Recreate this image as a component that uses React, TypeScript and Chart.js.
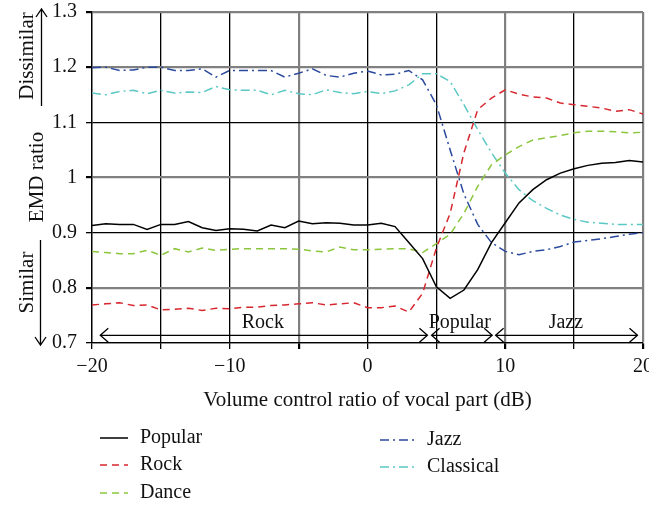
import { useEffect, useRef } from 'react';
import { Chart, registerables } from 'chart.js';

Chart.register(...registerables);

const volumeDb = [
  -20, -19, -18, -17, -16, -15, -14, -13, -12, -11, -10, -9, -8, -7, -6, -5, -4, -3, -2, -1,
  0, 1, 2, 3, 4, 5, 6, 7, 8, 9, 10, 11, 12, 13, 14, 15, 16, 17, 18, 19, 20,
];

const popular = [
  0.913, 0.916, 0.915, 0.915, 0.906, 0.915, 0.915, 0.92, 0.909, 0.904, 0.907, 0.906, 0.903, 0.914,
  0.909, 0.921, 0.916, 0.918, 0.917, 0.914, 0.914, 0.917, 0.911, 0.882, 0.853, 0.802, 0.781, 0.796,
  0.833, 0.882, 0.918, 0.954, 0.978, 0.996, 1.008, 1.016, 1.022, 1.026, 1.027, 1.031, 1.028,
];

const rock = [
  0.769, 0.771, 0.773, 0.768, 0.769, 0.76, 0.761, 0.763, 0.759, 0.763, 0.762, 0.765, 0.765, 0.768,
  0.769, 0.771, 0.773, 0.769, 0.771, 0.773, 0.764, 0.764, 0.767, 0.756, 0.79, 0.872, 0.935, 1.045,
  1.123, 1.144, 1.159, 1.151, 1.146, 1.144, 1.135, 1.132, 1.129, 1.126, 1.12, 1.123, 1.115,
];

const dance = [
  0.866, 0.864, 0.862, 0.862, 0.868, 0.859, 0.871, 0.865, 0.872, 0.868, 0.87, 0.871, 0.871, 0.871,
  0.871, 0.87, 0.867, 0.865, 0.874, 0.869, 0.869, 0.87, 0.871, 0.871, 0.864, 0.88, 0.897, 0.935,
  0.984, 1.023, 1.041, 1.056, 1.068, 1.072, 1.076, 1.081, 1.084, 1.084, 1.083, 1.081, 1.082,
];

const jazz = [
  1.199, 1.2, 1.194, 1.195, 1.2, 1.2, 1.194, 1.194, 1.197, 1.182, 1.194, 1.194, 1.194, 1.194,
  1.182, 1.189, 1.197, 1.185, 1.182, 1.189, 1.193, 1.186, 1.187, 1.194, 1.177, 1.132, 1.05, 0.97,
  0.915, 0.882, 0.866, 0.86, 0.866, 0.869, 0.875, 0.883, 0.886, 0.889, 0.893, 0.897, 0.9,
];

const classical = [
  1.153, 1.15, 1.156, 1.158, 1.152, 1.158, 1.153, 1.155, 1.154, 1.165, 1.159, 1.158, 1.158, 1.15,
  1.158, 1.152, 1.15, 1.159, 1.154, 1.152, 1.156, 1.152, 1.157, 1.168, 1.188, 1.188, 1.174, 1.132,
  1.087, 1.045, 1.008, 0.978, 0.958, 0.944, 0.932, 0.924, 0.919, 0.917, 0.915, 0.915, 0.915,
];

const seriesNames = ['Popular', 'Rock', 'Dance', 'Jazz', 'Classical'];
const seriesValues = [popular, rock, dance, jazz, classical];
const seriesColors = ['#000000', '#d7262d', '#8cc63e', '#2b4a9e', '#5bc8c4'];
const seriesDashes = [[], [7, 5], [7, 5], [9, 4, 2, 4], [9, 4, 2, 4]];

const regionLabels = ['Rock', 'Popular', 'Jazz'];
const regionStarts = [-19.4, 4.65, 9.3];
const regionEnds = [4.35, 9.05, 19.6];

const grayX = [-5, 10, 20];
const grayY = [13, 12, 10, 8];

const FONT = '"Liberation Serif", "Times New Roman", serif';

const overlay = {
  id: 'overlay',
  afterDraw(chart: any) {
    const { ctx } = chart;
    const xs = chart.scales.x;
    const ys = chart.scales.y;
    ctx.save();
    ctx.strokeStyle = '#000';
    ctx.fillStyle = '#111';
    ctx.lineWidth = 1.3;
    ctx.setLineDash([]);

    // region arrows
    const ay = ys.getPixelForValue(0.714);
    ctx.font = `20px ${FONT}`;
    ctx.textAlign = 'center';
    ctx.textBaseline = 'alphabetic';
    regionLabels.forEach((lab, i) => {
      const a = xs.getPixelForValue(regionStarts[i]);
      const b = xs.getPixelForValue(regionEnds[i]);
      ctx.beginPath();
      ctx.moveTo(a, ay);
      ctx.lineTo(b, ay);
      ctx.moveTo(a + 8, ay - 7);
      ctx.lineTo(a, ay);
      ctx.lineTo(a + 8, ay + 7);
      ctx.moveTo(b - 8, ay - 7);
      ctx.lineTo(b, ay);
      ctx.lineTo(b - 8, ay + 7);
      ctx.stroke();
    });
    const labelCenters = [-7.6, 6.7, 14.4];
    regionLabels.forEach((lab, i) => {
      ctx.fillText(lab, xs.getPixelForValue(labelCenters[i]), ay - 7.5);
    });

    // left side annotations
    const rot = (text: string, x: number, y: number, size: number) => {
      ctx.save();
      ctx.translate(x, y);
      ctx.rotate(-Math.PI / 2);
      ctx.font = `${size}px ${FONT}`;
      ctx.textAlign = 'center';
      ctx.textBaseline = 'alphabetic';
      ctx.fillText(text, 0, 0);
      ctx.restore();
    };
    rot('Dissimilar', 33, 56, 21);
    rot('EMD ratio', 42.5, 177, 21);
    rot('Similar', 33, 282.5, 21);

    ctx.beginPath();
    ctx.moveTo(41.5, 106);
    ctx.lineTo(41.5, 9);
    ctx.moveTo(36, 17);
    ctx.lineTo(41.5, 9);
    ctx.lineTo(47, 17);
    ctx.moveTo(40.5, 240);
    ctx.lineTo(40.5, 345);
    ctx.moveTo(35, 337);
    ctx.lineTo(40.5, 345);
    ctx.lineTo(46, 337);
    ctx.stroke();

    // x axis title
    ctx.font = `21px ${FONT}`;
    ctx.textAlign = 'center';
    ctx.textBaseline = 'middle';
    ctx.fillText('Volume control ratio of vocal part (dB)', (chart.chartArea.left + chart.chartArea.right) / 2, 400);

    // legend
    const spots = [
      { x: 100, w: 28, tx: 140, y: 438 },
      { x: 100, w: 28, tx: 140, y: 465 },
      { x: 100, w: 28, tx: 140, y: 493 },
      { x: 380, w: 35, tx: 427, y: 440 },
      { x: 380, w: 35, tx: 427, y: 467 },
    ];
    ctx.font = `20px ${FONT}`;
    ctx.textAlign = 'left';
    chart.data.datasets.forEach((ds: any, i: number) => {
      const s = spots[i];
      ctx.save();
      ctx.strokeStyle = ds.borderColor;
      ctx.lineWidth = 1.5;
      ctx.setLineDash(ds.borderDash || []);
      ctx.beginPath();
      ctx.moveTo(s.x, s.y);
      ctx.lineTo(s.x + s.w, s.y);
      ctx.stroke();
      ctx.restore();
      ctx.fillStyle = '#111';
      ctx.textBaseline = 'middle';
      ctx.fillText(ds.label, s.tx, s.y);
    });
    ctx.restore();
  },
};

export default function App() {
  const ref = useRef<HTMLCanvasElement>(null);
  useEffect(() => {
    const canvas = ref.current;
    if (!canvas) return;
    const chart = new Chart(canvas, {
      type: 'line',
      data: {
        datasets: seriesNames.map((name, i) => ({
          label: name,
          data: volumeDb.map((x, j) => ({ x, y: seriesValues[i][j] })),
          borderColor: seriesColors[i],
          backgroundColor: seriesColors[i],
          borderDash: seriesDashes[i],
          borderWidth: 1.5,
          pointRadius: 0,
          tension: 0,
          fill: false,
        })),
      },
      options: {
        animation: false,
        responsive: false,
        devicePixelRatio: 1,
        layout: { padding: { top: 12, right: 6, left: 0, bottom: 0 } },
        plugins: { legend: { display: false }, tooltip: { enabled: false } },
        scales: {
          x: {
            type: 'linear',
            min: -20,
            max: 20,
            afterFit: (s: any) => {
              s.height = 162;
              s.paddingLeft = 0;
              s.paddingRight = 0;
            },
            ticks: {
              stepSize: 5,
              autoSkip: false,
              maxRotation: 0,
              padding: 6,
              color: '#111',
              font: { family: FONT, size: 20 },
              callback: (v: any) => {
                const n = Number(v);
                if (n % 10 !== 0) return '';
                return n < 0 ? '\u2212' + Math.abs(n) : String(n);
              },
            },
            grid: {
              color: (c: any) => (grayX.includes(c.tick?.value) ? '#808080' : '#000'),
              lineWidth: (c: any) => (grayX.includes(c.tick?.value) ? 2.2 : 1.3),
              tickLength: 6,
              tickColor: '#000',
            },
            border: { display: true, color: '#000', width: 1.3 },
          },
          y: {
            type: 'linear',
            min: 0.7,
            max: 1.3,
            afterFit: (s: any) => {
              s.width = 92;
              s.paddingTop = 0;
              s.paddingBottom = 0;
            },
            ticks: {
              stepSize: 0.1,
              padding: 9,
              color: '#111',
              font: { family: FONT, size: 20 },
              callback: (v: any) => String(Number(Number(v).toFixed(1))),
            },
            grid: {
              color: (c: any) =>
                grayY.includes(Math.round((c.tick?.value ?? 0) * 10)) ? '#808080' : '#000',
              lineWidth: (c: any) =>
                grayY.includes(Math.round((c.tick?.value ?? 0) * 10)) ? 2.2 : 1.3,
              tickLength: 6,
              tickColor: '#000',
            },
            border: { display: true, color: '#000', width: 1.3 },
          },
        },
      },
      plugins: [overlay],
    } as any);
    return () => chart.destroy();
  }, []);
  return (
    <div style={{ position: 'absolute', left: 0, top: 0, width: 649, height: 505, background: '#fff' }}>
      <canvas ref={ref} width={649} height={505} style={{ width: 649, height: 505, display: 'block' }} />
    </div>
  );
}
